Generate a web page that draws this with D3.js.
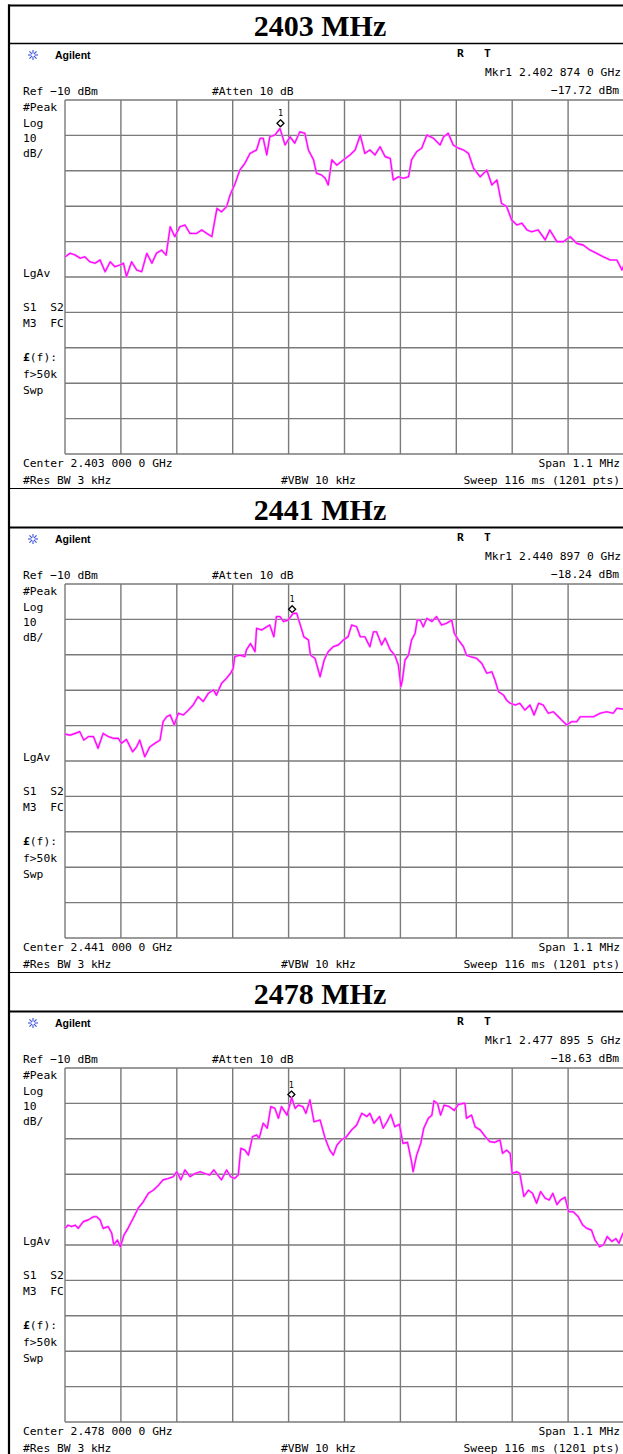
<!DOCTYPE html>
<html><head><meta charset="utf-8">
<script src="https://cdn.jsdelivr.net/npm/d3@7"></script>
<style>
html,body{margin:0;padding:0;background:#fff;}
svg{display:block;}
.mono{font-family:"DejaVu Sans Mono",monospace;font-size:11.3px;fill:#000;}
</style></head>
<body>
<svg id="chart" width="623" height="1454"></svg>
<script>
// ---------------- DATA ----------------
const panelTitles = ["2403 MHz", "2441 MHz", "2478 MHz"];
const centerFreqs = ["2.403 000 0 GHz", "2.441 000 0 GHz", "2.478 000 0 GHz"];
const markerFreqLabels = ["2.402 874 0 GHz", "2.440 897 0 GHz", "2.477 895 5 GHz"];
const markerLevels = [-17.72, -18.24, -18.63];          // dBm
const markerOffsetsKHz = [-126, -103, -104.5];          // kHz from centre
const spanKHz = [-550, 550];
const refLevels = [-110, -10];                          // dBm bottom/top (10 dB/div)
const leftLabels = [["#Peak",111],["Log",127],["10",142],["dB/",157],["LgAv",277],["S1  S2",311],["M3  FC",327],["f>50k",378],["Swp",394]];

// trace readings: [offset kHz, level dBm]
const trace2403 = [[-550,-54.3],[-540,-53.3],[-530,-53.8],[-520,-54.7],[-511,-54.3],[-501,-55.7],[-491,-56.1],[-481,-55.2],[-471,-58.5],[-461,-55.7],[-452,-57.1],[-442,-56.6],[-435,-56.1],[-429,-59.9],[-419,-55.7],[-409,-58.0],[-399,-58.5],[-389,-53.3],[-379,-56.1],[-370,-53.3],[-360,-52.4],[-351,-53.8],[-343,-45.8],[-334,-48.6],[-324,-45.8],[-314,-45.3],[-304,-47.7],[-291,-47.7],[-281,-46.7],[-271,-47.7],[-261,-48.6],[-251,-40.6],[-242,-41.6],[-232,-40.1],[-225,-36.8],[-215,-33.5],[-206,-29.8],[-196,-27.9],[-186,-25.1],[-173,-24.1],[-166,-20.8],[-160,-20.8],[-153,-25.5],[-147,-20.4],[-137,-19.9],[-127,-18.0],[-117,-22.7],[-107,-20.4],[-98,-22.2],[-88,-19.0],[-78,-19.4],[-71,-24.1],[-61,-26.9],[-55,-30.7],[-45,-31.2],[-38,-32.1],[-32,-34.0],[-25,-26.9],[-15,-28.4],[-2,-26.9],[11,-25.5],[21,-24.1],[31,-19.9],[40,-25.1],[50,-24.1],[60,-25.5],[70,-23.2],[80,-26.0],[90,-26.5],[96,-32.6],[106,-31.7],[116,-32.1],[126,-31.7],[132,-26.9],[142,-24.6],[152,-23.6],[162,-19.9],[175,-20.8],[188,-22.7],[195,-20.4],[204,-19.4],[214,-22.7],[224,-23.6],[234,-24.1],[244,-25.1],[254,-29.3],[267,-31.7],[280,-29.8],[290,-34.0],[300,-32.6],[309,-39.2],[319,-40.1],[329,-43.9],[339,-45.3],[349,-44.8],[359,-46.7],[368,-47.2],[381,-46.7],[395,-49.5],[404,-46.7],[418,-50.0],[431,-50.0],[444,-48.6],[457,-50.5],[470,-51.0],[483,-52.4],[496,-53.3],[509,-54.3],[523,-55.2],[536,-55.2],[546,-58.0],[550,-56.6]];

const trace2441 = [[-550,-52.4],[-540,-52.7],[-530,-52.2],[-521,-51.7],[-513,-54.1],[-504,-53.1],[-494,-53.1],[-485,-56.4],[-475,-52.2],[-465,-53.1],[-455,-53.6],[-445,-53.6],[-439,-55.0],[-429,-53.9],[-417,-57.4],[-409,-56.0],[-403,-54.1],[-393,-58.8],[-383,-56.0],[-373,-55.0],[-363,-54.1],[-357,-48.9],[-350,-47.5],[-343,-47.0],[-335,-49.8],[-327,-46.5],[-317,-47.0],[-307,-45.6],[-298,-44.2],[-288,-41.8],[-278,-43.2],[-268,-40.9],[-258,-39.9],[-252,-41.4],[-242,-38.1],[-232,-36.6],[-224,-35.2],[-219,-33.8],[-216,-30.5],[-206,-30.1],[-196,-30.5],[-193,-28.6],[-185,-26.8],[-176,-29.1],[-173,-22.5],[-163,-23.0],[-153,-22.1],[-147,-21.6],[-139,-24.9],[-134,-19.2],[-127,-19.2],[-120,-20.6],[-111,-20.2],[-101,-18.3],[-94,-18.3],[-88,-21.1],[-80,-24.9],[-71,-25.8],[-67,-30.1],[-58,-31.0],[-48,-36.2],[-40,-31.5],[-32,-29.1],[-22,-27.7],[-12,-27.2],[-2,-25.8],[7,-24.9],[14,-21.6],[24,-22.1],[31,-24.9],[40,-24.9],[50,-27.7],[57,-23.5],[63,-23.5],[73,-27.2],[80,-25.3],[90,-28.6],[99,-30.1],[106,-32.9],[111,-39.0],[114,-37.1],[119,-31.5],[126,-30.1],[132,-25.8],[139,-23.9],[143,-20.2],[149,-20.2],[155,-22.1],[162,-19.7],[172,-20.6],[181,-19.2],[191,-21.6],[201,-21.1],[211,-20.2],[216,-23.9],[224,-25.8],[234,-27.7],[240,-30.1],[250,-30.6],[260,-31.0],[270,-32.4],[280,-35.2],[290,-34.8],[296,-37.1],[303,-40.4],[313,-41.4],[319,-42.8],[326,-43.7],[336,-44.2],[345,-43.7],[355,-45.6],[365,-44.2],[373,-47.0],[382,-43.7],[391,-44.2],[401,-46.5],[411,-46.1],[421,-47.5],[427,-48.4],[437,-49.8],[447,-48.9],[457,-48.9],[464,-47.5],[477,-47.5],[490,-47.5],[503,-46.5],[516,-46.1],[529,-46.5],[536,-45.1],[550,-45.4]];

const trace2478 = [[-550,-55.3],[-544,-54.4],[-537,-54.8],[-530,-54.4],[-524,-55.3],[-514,-53.4],[-504,-52.9],[-494,-52.0],[-488,-52.0],[-481,-52.9],[-475,-55.3],[-465,-54.8],[-458,-56.7],[-454,-60.0],[-447,-58.6],[-441,-60.5],[-434,-57.2],[-426,-55.3],[-416,-52.5],[-406,-49.6],[-396,-47.8],[-386,-45.4],[-376,-44.5],[-366,-43.1],[-357,-41.6],[-347,-41.2],[-337,-40.7],[-330,-39.3],[-322,-41.6],[-314,-38.8],[-304,-40.7],[-294,-39.8],[-284,-39.3],[-275,-39.8],[-265,-40.2],[-257,-38.8],[-250,-40.2],[-242,-41.6],[-232,-38.8],[-224,-40.7],[-216,-41.2],[-209,-40.2],[-204,-32.7],[-196,-33.2],[-189,-34.6],[-181,-29.4],[-173,-28.9],[-168,-29.9],[-160,-25.6],[-152,-27.0],[-145,-20.9],[-137,-21.4],[-130,-24.2],[-124,-20.9],[-113,-23.3],[-104,-18.4],[-97,-21.4],[-91,-20.5],[-82,-20.9],[-76,-22.8],[-68,-19.0],[-60,-25.2],[-48,-24.7],[-38,-29.9],[-29,-33.2],[-22,-34.6],[-15,-31.8],[-6,-30.3],[4,-29.4],[14,-27.5],[24,-26.1],[34,-22.8],[44,-23.7],[50,-22.8],[58,-25.6],[69,-23.7],[76,-27.0],[84,-25.1],[91,-23.1],[99,-26.6],[108,-25.9],[115,-31.3],[124,-31.0],[132,-36.5],[135,-39.3],[142,-34.6],[150,-31.3],[156,-27.0],[165,-24.2],[172,-23.3],[176,-19.3],[183,-20.0],[189,-23.3],[196,-20.5],[206,-20.9],[216,-22.0],[224,-20.3],[234,-20.0],[237,-20.0],[240,-24.2],[250,-23.3],[257,-26.6],[267,-27.5],[277,-29.4],[286,-30.8],[296,-31.0],[306,-30.3],[311,-34.1],[319,-33.2],[326,-34.1],[330,-39.8],[339,-39.3],[345,-39.8],[353,-46.3],[362,-44.5],[370,-45.4],[378,-48.2],[386,-44.9],[395,-46.8],[403,-47.3],[410,-45.4],[418,-48.6],[425,-47.3],[434,-46.5],[441,-50.6],[450,-50.6],[460,-52.0],[469,-54.4],[477,-55.3],[486,-55.8],[493,-58.6],[502,-60.5],[510,-59.9],[517,-57.6],[526,-59.0],[534,-58.2],[540,-59.5],[548,-56.7],[550,-57.0]];

const traces = [trace2403, trace2441, trace2478];

// ---------------- DRAW ----------------
const svg = d3.select("#chart");
svg.append("rect").attr("width",623).attr("height",1454).attr("fill","#fff");
const PANEL_H = 484;

const x = d3.scaleLinear().domain(spanKHz).range([65, 624]);
const y = d3.scaleLinear().domain(refLevels).range([454, 100]);
const xTicks = d3.range(spanKHz[0], spanKHz[1] + 1, 110);
const yTicks = d3.range(refLevels[0], refLevels[1] + 1, 10);

const defs = svg.append("defs");

traces.forEach((tr, k) => {
  const o = PANEL_H * k;
  const g = svg.append("g").attr("transform", `translate(0,${o})`);

  // title row
  g.append("text").attr("x", 320).attr("y", 36).attr("text-anchor","middle")
    .attr("font-family","Liberation Serif, Times New Roman, serif").attr("font-weight","bold")
    .attr("font-size", 30).text(panelTitles[k]);
  g.append("line").attr("x1",9).attr("x2",623).attr("y1",43.5).attr("y2",43.5)
    .attr("stroke","#000").attr("stroke-width", k===0 ? 1.3 : 2);

  // logo
  const lg = g.append("g").attr("transform","translate(33,55)");
  for (let i=0;i<8;i++){
    const a = i*Math.PI/4;
    lg.append("line").attr("x1",Math.cos(a)*1.5).attr("y1",Math.sin(a)*1.5)
      .attr("x2",Math.cos(a)*5).attr("y2",Math.sin(a)*5)
      .attr("stroke","#3a4fd8").attr("stroke-width",1.1);
  }
  g.append("text").attr("x",55).attr("y",59).attr("font-family","Liberation Sans, Arial, sans-serif")
    .attr("font-weight","bold").attr("font-size",10.5).text("Agilent");
  g.append("text").attr("class","mono").attr("x",457).attr("y",57).attr("font-weight","bold").text("R");
  g.append("text").attr("class","mono").attr("x",484).attr("y",57).attr("font-weight","bold").text("T");
  g.append("text").attr("class","mono").attr("x",621).attr("y",76).attr("text-anchor","end")
    .text("Mkr1  " + markerFreqLabels[k]);
  g.append("text").attr("class","mono").attr("x",619).attr("y",94).attr("text-anchor","end")
    .text("\u2212" + Math.abs(markerLevels[k]).toFixed(2) + " dBm");
  g.append("text").attr("class","mono").attr("x",23).attr("y",94.5).text("Ref \u221210 dBm");
  g.append("text").attr("class","mono").attr("x",212).attr("y",94.5).text("#Atten 10 dB");

  leftLabels.forEach(([t,yy]) => {
    g.append("text").attr("class","mono").attr("x",23).attr("y",yy).attr("xml:space","preserve").text(t);
  });
  const lf = g.append("text").attr("class","mono").attr("x",23).attr("y",361);
  lf.append("tspan").attr("font-weight","bold").text("£");
  lf.append("tspan").text("(f):");

  // grid
  const grid = g.append("g");
  grid.selectAll(".vl").data(xTicks).join("line")
    .attr("x1", d=>x(d)).attr("x2", d=>x(d)).attr("y1", y(refLevels[1])).attr("y2", y(refLevels[0]))
    .attr("stroke","#7a7a7a").attr("stroke-width",1.4);
  grid.selectAll(".hl").data(yTicks).join("line")
    .attr("x1", x(spanKHz[0])).attr("x2", x(spanKHz[1])).attr("y1", d=>y(d)).attr("y2", d=>y(d))
    .attr("stroke","#7a7a7a").attr("stroke-width",1.4);

  // trace
  const cid = "clip"+k;
  defs.append("clipPath").attr("id",cid).append("rect")
    .attr("x",65).attr("y",100+o).attr("width",559).attr("height",354);
  const line = d3.line().x(d=>x(d[0])).y(d=>y(d[1]));
  const tg = svg.append("g").attr("clip-path",`url(#${cid})`).append("g").attr("transform",`translate(0,${o})`);
  tg.append("path").datum(tr).attr("d",line).attr("fill","none")
    .attr("stroke","#ff88ff").attr("stroke-width",2.2).attr("stroke-linejoin","round");
  tg.append("path").datum(tr).attr("d",line).attr("fill","none")
    .attr("stroke","#ff00ff").attr("stroke-width",1.1).attr("stroke-linejoin","round");

  // marker
  const mx = x(markerOffsetsKHz[k]), my = y(markerLevels[k]) - 4;
  g.append("path").attr("d",`M${mx},${my-3.5}L${mx+3.5},${my}L${mx},${my+3.5}L${mx-3.5},${my}Z`)
    .attr("fill","#fff").attr("stroke","#000").attr("stroke-width",1.3);
  g.append("text").attr("x",mx).attr("y",my-7).attr("text-anchor","middle")
    .attr("font-family","DejaVu Sans Mono, monospace").attr("font-size",8.5).text("1");

  // footer
  g.append("text").attr("class","mono").attr("x",23).attr("y",467).text("Center " + centerFreqs[k]);
  g.append("text").attr("class","mono").attr("x",620).attr("y",467).attr("text-anchor","end").text("Span 1.1 MHz");
  g.append("text").attr("class","mono").attr("x",23).attr("y",484).text("#Res BW 3 kHz");
  g.append("text").attr("class","mono").attr("x",281).attr("y",484).text("#VBW 10 kHz");
  g.append("text").attr("class","mono").attr("x",620).attr("y",484).attr("text-anchor","end").text("Sweep 116 ms (1201 pts)");
  if (k < 2) {
    g.append("line").attr("x1",9).attr("x2",623).attr("y1",488.5).attr("y2",488.5)
      .attr("stroke","#000").attr("stroke-width",1.2);
  }
});

// outer borders
svg.append("line").attr("x1",9).attr("x2",9).attr("y1",4.5).attr("y2",1454).attr("stroke","#000").attr("stroke-width",2.2);
svg.append("line").attr("x1",8).attr("x2",623).attr("y1",5.5).attr("y2",5.5).attr("stroke","#000").attr("stroke-width",2.2);
</script>
</body></html>
